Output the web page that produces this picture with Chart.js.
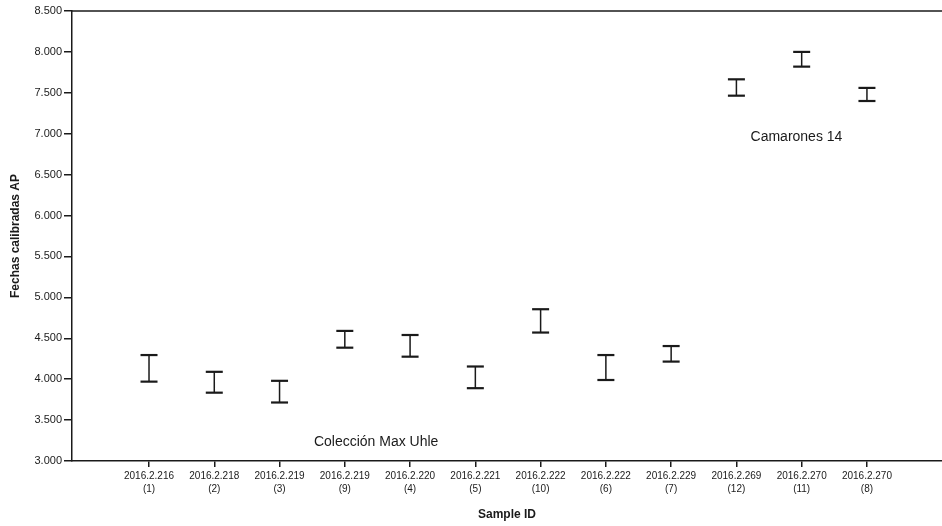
<!DOCTYPE html>
<html>
<head>
<meta charset="utf-8">
<script src="https://cdn.jsdelivr.net/npm/chart.js@4/dist/chart.umd.min.js"></script>
<style>
    html, body { margin: 0; padding: 0; background: #fff; overflow: hidden; }
    canvas { display: block; }
</style>
</head>
<body>
<canvas id="chart-dates" width="942" height="526"></canvas>
<script>
// Calibrated date ranges (AP) per sample
const sampleIds = ['2016.2.216', '2016.2.218', '2016.2.219', '2016.2.219', '2016.2.220', '2016.2.221',
                   '2016.2.222', '2016.2.222', '2016.2.229', '2016.2.269', '2016.2.270', '2016.2.270'];
const sampleNums = ['(1)', '(2)', '(3)', '(9)', '(4)', '(5)', '(10)', '(6)', '(7)', '(12)', '(11)', '(8)'];
const lowDates = [3970, 3835, 3715, 4385, 4275, 3890, 4570, 3990, 4215, 7465, 7820, 7400];
const highDates = [4295, 4090, 3980, 4590, 4540, 4155, 4855, 4295, 4405, 7665, 8000, 7560];
const yTicks = [3000, 3500, 4000, 4500, 5000, 5500, 6000, 6500, 7000, 7500, 8000, 8500];

// group labels, anchored in data coordinates
const groupNotes = [
    { text: 'Camarones 14', x: 9.92, y: 6960 },
    { text: 'Colección Max Uhle', x: 3.48, y: 3235 },
];

const ink = '#1a1a1a';
const fontFamily = '"Liberation Sans", Arial, sans-serif';

const stems = [];
const caps = [];
lowDates.forEach((lo, i) => {
    stems.push({ x: i, y: lo }, { x: i, y: highDates[i] }, { x: i, y: null });
    caps.push({ x: i, y: lo }, { x: i, y: highDates[i] });
});

const frameAndNotes = {
    id: 'frameAndNotes',
    afterDraw(chart) {
        const { ctx, chartArea, scales } = chart;
        ctx.save();
        ctx.strokeStyle = ink;
        ctx.lineWidth = 1.5;
        ctx.beginPath();
        ctx.moveTo(chartArea.left, chartArea.top);
        ctx.lineTo(chartArea.right, chartArea.top);
        ctx.stroke();

        ctx.fillStyle = ink;
        ctx.font = '14px ' + fontFamily;
        ctx.textAlign = 'center';
        ctx.textBaseline = 'middle';
        groupNotes.forEach(n => {
            ctx.fillText(n.text, scales.x.getPixelForValue(n.x), scales.y.getPixelForValue(n.y));
        });
        ctx.restore();
    },
};

new Chart(document.getElementById('chart-dates'), {
    type: 'line',
    data: {
        datasets: [
            {
                label: 'Rango',
                data: stems,
                borderColor: ink,
                borderWidth: 1.5,
                pointRadius: 0,
                spanGaps: false,
                fill: false,
            },
            {
                label: 'Extremos',
                type: 'scatter',
                data: caps,
                pointStyle: 'line',
                pointRadius: 8.5,
                pointBorderWidth: 2.2,
                pointBorderColor: ink,
                borderColor: ink,
                showLine: false,
            },
        ],
    },
    plugins: [frameAndNotes],
    options: {
        responsive: false,
        animation: false,
        layout: { autoPadding: false, padding: { left: 4, top: 11, right: 0, bottom: 0 } },
        plugins: {
            legend: { display: false },
            tooltip: { enabled: false },
        },
        scales: {
            x: {
                type: 'linear',
                min: -1.18,
                max: 12.15,
                afterBuildTicks: scale => {
                    scale.ticks = sampleIds.map((_, i) => ({ value: i }));
                },
                afterFit: scale => {
                    scale.height = 65;
                    scale.paddingLeft = 0;
                    scale.paddingRight = 0;
                },
                ticks: {
                    autoSkip: false,
                    maxRotation: 0,
                    padding: 3,
                    color: ink,
                    font: { family: fontFamily, size: 10, lineHeight: 1.3 },
                    callback: v => [sampleIds[v], sampleNums[v]],
                },
                grid: { drawOnChartArea: false, tickLength: 6, color: ink, lineWidth: 1.5 },
                border: { color: ink, width: 1.5 },
                title: {
                    display: true,
                    text: 'Sample ID',
                    color: ink,
                    font: { family: fontFamily, size: 12, weight: 'bold' },
                    padding: { top: 0, bottom: 4 },
                },
            },
            y: {
                min: 3000,
                max: 8500,
                afterBuildTicks: scale => {
                    scale.ticks = yTicks.map(v => ({ value: v }));
                },
                afterFit: scale => { scale.width = 68; },
                ticks: {
                    padding: 2,
                    color: ink,
                    font: { family: fontFamily, size: 11 },
                    callback: v => v.toLocaleString('de-DE'),
                },
                grid: { drawOnChartArea: false, tickLength: 8, color: ink, lineWidth: 1.5 },
                border: { color: ink, width: 1.5 },
                title: {
                    display: true,
                    text: 'Fechas calibradas AP',
                    color: ink,
                    font: { family: fontFamily, size: 12, weight: 'bold' },
                    padding: { top: 4, bottom: 4 },
                },
            },
        },
    },
});
</script>
</body>
</html>
